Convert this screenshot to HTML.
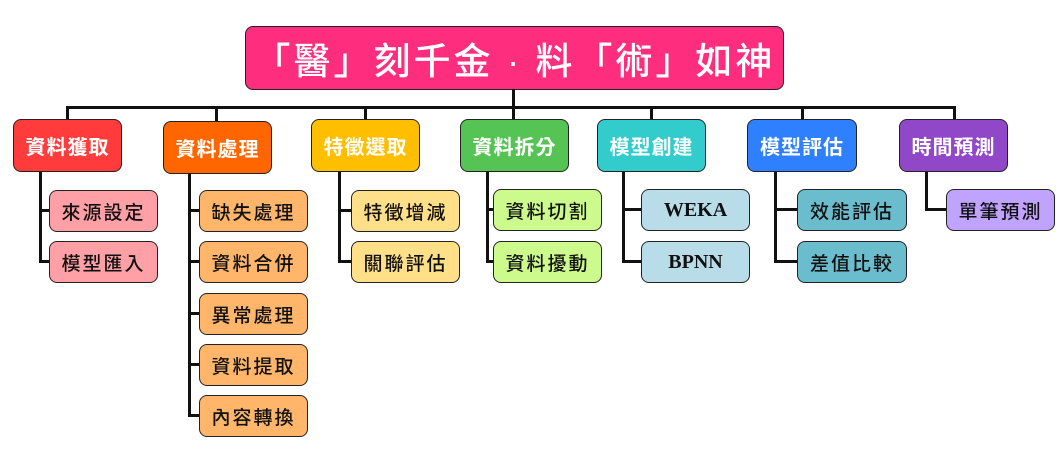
<!DOCTYPE html>
<html><head><meta charset="utf-8"><style>
body{margin:0;width:1062px;height:457px;background:#fff;position:relative;overflow:hidden;font-family:"Liberation Sans","Noto Sans CJK TC",sans-serif}
.b{position:absolute;box-sizing:border-box;border:1.5px solid #222;border-radius:8px;display:flex;align-items:center;justify-content:center;white-space:nowrap}
.t{color:#fff;font-size:20px;letter-spacing:1px;font-weight:bold}
.c{color:#111;font-size:19px;letter-spacing:2px;height:42px;width:109px;font-weight:500}
.l{position:absolute;background:#111}
.w{font-family:"Liberation Serif",serif;font-weight:bold;letter-spacing:0;font-size:20px}
</style></head><body>
<div class="b" style="left:245px;top:26px;width:539px;height:64px;background:#ff2d7e;color:#fff;font-size:37px;letter-spacing:3px;font-weight:500">「醫」刻千金 · 料「術」如神</div>
<div class="l" style="left:512px;top:89px;width:3px;height:20px"></div>
<div class="l" style="left:66px;top:106px;width:890px;height:3px"></div>
<div class="l" style="left:66px;top:106px;width:3px;height:14px"></div>
<div class="l" style="left:215px;top:106px;width:3px;height:16px"></div>
<div class="l" style="left:364px;top:106px;width:3px;height:14px"></div>
<div class="l" style="left:512px;top:106px;width:3px;height:14px"></div>
<div class="l" style="left:650px;top:106px;width:3px;height:14px"></div>
<div class="l" style="left:801px;top:106px;width:3px;height:14px"></div>
<div class="l" style="left:953px;top:106px;width:3px;height:14px"></div>

<div class="b t" style="left:13px;top:119px;width:109px;height:53px;background:#ff3b3b">資料獲取</div>
<div class="b t" style="left:163px;top:121px;width:109px;height:53px;background:#ff6600">資料處理</div>
<div class="b t" style="left:311px;top:119px;width:109px;height:53px;background:#ffbf00">特徵選取</div>
<div class="b t" style="left:460px;top:119px;width:109px;height:53px;background:#55c455">資料拆分</div>
<div class="b t" style="left:597px;top:119px;width:109px;height:53px;background:#33cccc">模型創建</div>
<div class="b t" style="left:747px;top:119px;width:110px;height:53px;background:#2f80ff">模型評估</div>
<div class="b t" style="left:899px;top:119px;width:109px;height:53px;background:#9047c8">時間預測</div>

<div class="l" style="left:39px;top:172px;width:3px;height:91px"></div>
<div class="l" style="left:39px;top:209px;width:11px;height:3px"></div>
<div class="l" style="left:39px;top:260px;width:11px;height:3px"></div>

<div class="l" style="left:188px;top:174px;width:3px;height:243px"></div>
<div class="l" style="left:188px;top:209px;width:12px;height:3px"></div>
<div class="l" style="left:188px;top:260px;width:12px;height:3px"></div>
<div class="l" style="left:188px;top:312px;width:12px;height:3px"></div>
<div class="l" style="left:188px;top:363px;width:12px;height:3px"></div>
<div class="l" style="left:188px;top:414px;width:12px;height:3px"></div>

<div class="l" style="left:338px;top:172px;width:3px;height:91px"></div>
<div class="l" style="left:338px;top:209px;width:14px;height:3px"></div>
<div class="l" style="left:338px;top:260px;width:14px;height:3px"></div>

<div class="l" style="left:486px;top:172px;width:3px;height:91px"></div>
<div class="l" style="left:486px;top:208px;width:8px;height:3px"></div>
<div class="l" style="left:486px;top:260px;width:8px;height:3px"></div>

<div class="l" style="left:622px;top:172px;width:3px;height:91px"></div>
<div class="l" style="left:622px;top:208px;width:20px;height:3px"></div>
<div class="l" style="left:622px;top:260px;width:20px;height:3px"></div>

<div class="l" style="left:774px;top:172px;width:3px;height:91px"></div>
<div class="l" style="left:774px;top:208px;width:24px;height:3px"></div>
<div class="l" style="left:774px;top:260px;width:24px;height:3px"></div>

<div class="l" style="left:925px;top:172px;width:3px;height:39px"></div>
<div class="l" style="left:925px;top:208px;width:22px;height:3px"></div>

<div class="b c" style="left:49px;top:190px;background:#ffa0a6">來源設定</div>
<div class="b c" style="left:49px;top:241px;background:#ffa0a6">模型匯入</div>

<div class="b c" style="left:199px;top:190px;background:#ffb66b">缺失處理</div>
<div class="b c" style="left:199px;top:241px;background:#ffb66b">資料合併</div>
<div class="b c" style="left:199px;top:293px;background:#ffb66b">異常處理</div>
<div class="b c" style="left:199px;top:344px;background:#ffb66b">資料提取</div>
<div class="b c" style="left:199px;top:395px;background:#ffb66b">內容轉換</div>

<div class="b c" style="left:351px;top:190px;background:#ffdf88">特徵增減</div>
<div class="b c" style="left:351px;top:241px;background:#ffdf88">關聯評估</div>

<div class="b c" style="left:493px;top:189px;background:#ccfa8c">資料切割</div>
<div class="b c" style="left:493px;top:241px;background:#ccfa8c">資料擾動</div>

<div class="b c w" style="left:641px;top:189px;background:#b8dde8">WEKA</div>
<div class="b c w" style="left:641px;top:241px;background:#b8dde8">BPNN</div>

<div class="b c" style="left:797px;top:189px;width:110px;background:#6bbccd">效能評估</div>
<div class="b c" style="left:797px;top:241px;width:110px;background:#6bbccd">差值比較</div>

<div class="b c" style="left:946px;top:189px;background:#c0a2ff">單筆預測</div>
</body></html>
